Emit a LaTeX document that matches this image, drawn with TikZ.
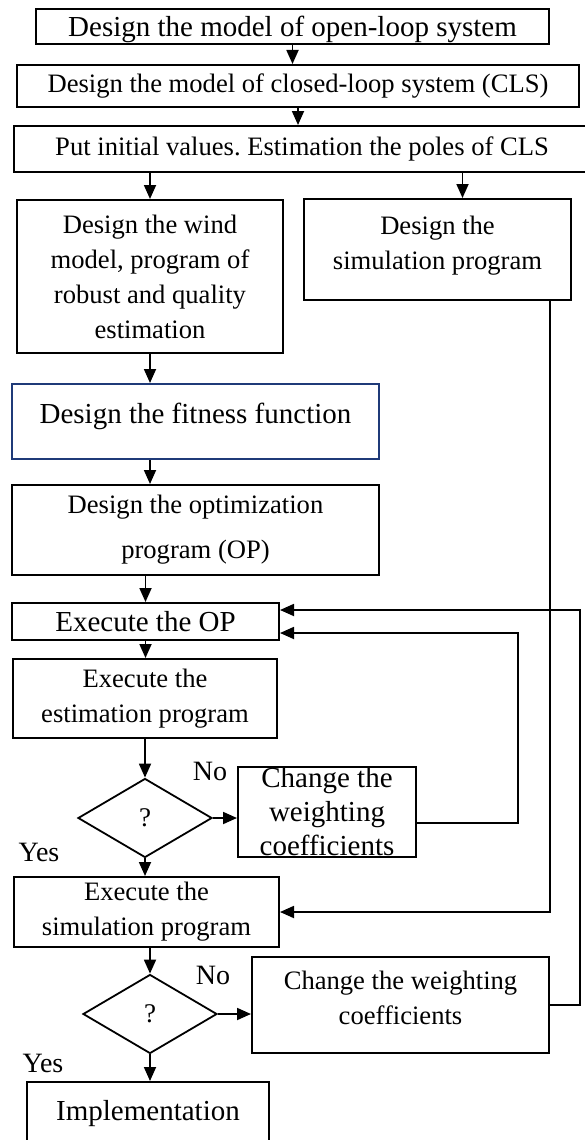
\documentclass[tikz,border=0pt]{standalone}
\usepackage{fontspec}
\setmainfont{Liberation Serif}
\frenchspacing
\usetikzlibrary{shapes.geometric,arrows.meta}
\definecolor{fitblue}{HTML}{1F3A78}
\tikzset{
	stepbox/.style={draw, line width=2pt, align=center, inner sep=0pt, font=\fontsize{26.6}{35}\selectfont},
	bigbox/.style={stepbox, font=\fontsize{29}{34}\selectfont},
	query/.style={draw, diamond, line width=1.8pt, inner sep=0pt, minimum width=134pt, minimum height=79pt, font=\fontsize{27}{30}\selectfont},
	answer/.style={font=\fontsize{28}{30}\selectfont},
	flow/.style={line width=1.8pt, -{Triangle[width=12pt,length=14pt]}}
}

\begin{document}
\begin{tikzpicture}[x=1pt,y=-1pt]
		\useasboundingbox (0,0) rectangle (585,1140);
		\node[bigbox, minimum width=513pt, minimum height=35pt, text depth=0pt] (openloop) at (292.5,26.5) {Design the model of open-loop system};
		\node[stepbox, minimum width=562pt, minimum height=42pt] (closedloop) at (298,86) {Design the model of closed-loop system (CLS)};
		\node[stepbox, minimum width=576pt, minimum height=46pt] (initvals) at (302,149) {Put initial values. Estimation the poles of CLS};
		\node[stepbox, minimum width=266pt, minimum height=153pt] (windmodel) at (150,276.5) {Design the wind\\model, program of\\robust and quality\\estimation};
		\node[stepbox, minimum width=267pt, minimum height=101pt, text depth=14pt] (simdesign) at (437.5,249.5) {Design the\\simulation program};
		\node[bigbox, draw=fitblue, minimum width=367pt, minimum height=75pt, text depth=17pt] (fitness) at (195.5,421.5) {Design the fitness function};
		\node[stepbox, font=\fontsize{26.6}{45}\selectfont, minimum width=367pt, minimum height=90pt] (optprog) at (195.5,530) {Design the optimization\\program (OP)};
		\node[bigbox, minimum width=267pt, minimum height=37pt] (execop) at (145.5,621.5) {Execute the OP};
		\node[stepbox, minimum width=264pt, minimum height=79pt] (estprog) at (145,698.5) {Execute the\\estimation program};
		\node[query] (check1) at (145,818) {?};
		\node[bigbox, minimum width=178pt, minimum height=90pt] (changeA) at (327,812) {Change the\\weighting\\coefficients};
		\node[stepbox, minimum width=265pt, minimum height=70pt] (execsim) at (146.5,912) {Execute the\\simulation program};
		\node[query] (check2) at (150,1014) {?};
		\node[stepbox, minimum width=297pt, minimum height=96pt, text depth=14pt] (changeB) at (400.5,1005) {Change the weighting\\coefficients};
		\node[bigbox, minimum width=242pt, minimum height=63pt] (implement) at (148,1113.5) {Implementation};
		
		\node[answer] (noA) at (210,771) {No};
		\node[answer] (yesA) at (39,852) {Yes};
		\node[answer] (noB) at (213,975) {No};
		\node[answer] (yesB) at (43,1063) {Yes};
		
		\draw[flow] (openloop.south) -- (openloop.south |- closedloop.north);
		\draw[flow] (closedloop.south) -- (closedloop.south |- initvals.north);
		\draw[flow] (windmodel.north |- initvals.south) -- (windmodel.north);
		\draw[flow] ([xshift=25pt]simdesign.north |- initvals.south) -- ([xshift=25pt]simdesign.north);
		\draw[flow] (windmodel.south) -- (windmodel.south |- fitness.north);
		\draw[flow] (windmodel.south |- fitness.south) -- (windmodel.south |- optprog.north);
		\draw[flow] (execop.north |- optprog.south) -- (execop.north);
		\draw[flow] (execop.south) -- (execop.south |- estprog.north);
		\draw[flow] (estprog.south) -- (check1.north);
		\draw[flow] (check1.east) -- (check1.east -| changeA.west);
		\draw[flow] ([yshift=-11pt]changeA.east) -- ++(101,0) |- ([yshift=-11.5pt]execop.east);
		\draw[flow] (check1.south) -- (check1.south |- execsim.north);
		\draw[flow] ([xshift=-22pt]simdesign.south east) |- (execsim.east);
		\draw[flow] (execsim.south -| check2.north) -- (check2.north);
		\draw[flow] (check2.east) -- (check2.east -| changeB.west);
		\draw[flow] (changeB.east) -- ++(30,0) |- ([yshift=11.5pt]execop.east);
		\draw[flow] (check2.south) -- (check2.south |- implement.north);
		
	\end{tikzpicture}
\end{document}
